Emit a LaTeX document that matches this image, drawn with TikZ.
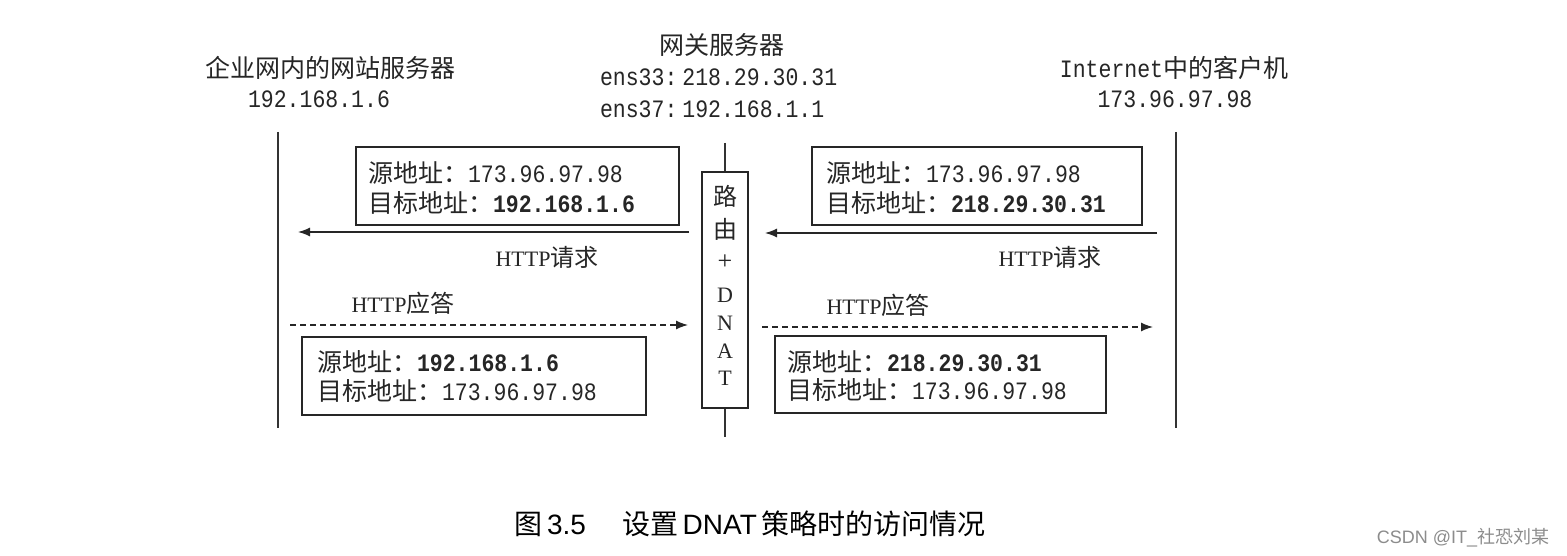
\documentclass[tikz,border=0pt]{standalone}
\usepackage{fontspec}
\usetikzlibrary{arrows.meta}
\setmainfont{Liberation Serif}
\newfontfamily\cjk{Noto Sans CJK SC}
\newfontfamily\mono[FakeStretch=0.86]{Liberation Mono}
\newfontfamily\arialf{Liberation Sans}
\newcommand\zh[1]{{\cjk\fontsize{25}{30}\selectfont #1}}
\newcommand\mn[1]{{\mono\fontsize{25}{30}\selectfont #1}}
\newcommand\mb[1]{{\mono\bfseries\fontsize{25}{30}\selectfont #1}}
\newcommand\ser[1]{{\fontsize{22}{26}\selectfont #1}}
\begin{document}
\begin{tikzpicture}[x=1pt,y=-1pt,
  txt/.style={inner sep=0pt,outer sep=0pt,text=black!85},
  lifeline/.style={line width=1.6pt,draw=black!80},
  pktbox/.style={draw=black!85,line width=1.5pt,inner sep=0pt},
  req/.style={line width=1.3pt,draw=black!85,-{Latex[length=12pt,width=9pt]}},
  resp/.style={line width=1.3pt,draw=black!85,dash pattern=on 6pt off 4pt,-{Latex[length=12pt,width=9pt]}}]
\useasboundingbox (0,0) rectangle (1567,556);
\fill[white] (0,0) rectangle (1567,556);

% headers
\node[txt] (h1) at (330,68) {\zh{企业网内的网站服务器}};
\node[txt] (h1ip) at (319,99) {\mn{192.168.1.6}};
\node[txt] (h2) at (722,45) {\zh{网关服务器}};
\node[txt,anchor=west] (h2a) at (600,77) {\mn{ens33:\hspace{5pt}218.29.30.31}};
\node[txt,anchor=west] (h2b) at (600,109) {\mn{ens37:\hspace{5pt}192.168.1.1}};
\node[txt] (h3) at (1174,68) {\mn{Internet}\zh{中的客户机}};
\node[txt] (h3ip) at (1175,99) {\mn{173.96.97.98}};

% lifelines
\coordinate (lt) at (278,132); \coordinate (lb) at (278,428);
\coordinate (rt) at (1176,132); \coordinate (rb) at (1176,428);
\draw[lifeline] (lt) -- (lb);
\draw[lifeline] (rt) -- (rb);

% router
\node[draw=black!85,line width=1.5pt,minimum width=46pt,minimum height=236pt,inner sep=0pt] (router) at (725,290) {};
\coordinate (gt) at (725,143); \coordinate (gb) at (725,437);
\draw[lifeline,line width=1.4pt] (gt) -- (router.north);
\draw[lifeline,line width=1.4pt] (router.south) -- (gb);
\node[txt] (r1) at (725,196) {{\cjk\fontsize{24}{28}\selectfont 路}};
\node[txt] (r2) at (725,229) {{\cjk\fontsize{24}{28}\selectfont 由}};
\node[txt] (r3) at (725,262) {{\fontsize{26}{30}\selectfont +}};
\node[txt] (r4) at (725,295) {\ser{D}};
\node[txt] (r5) at (725,323) {\ser{N}};
\node[txt] (r6) at (725,351) {\ser{A}};
\node[txt] (r7) at (725,378) {\ser{T}};

% packet boxes
\draw[pktbox] (356,147) rectangle (679,225);
\node[txt,anchor=west] (b1a) at (368,173) {\zh{源地址：}\mn{173.96.97.98}};
\node[txt,anchor=west] (b1b) at (368,203) {\zh{目标地址：}\mb{192.168.1.6}};

\draw[pktbox] (812,147) rectangle (1142,225);
\node[txt,anchor=west] (b2a) at (826,173) {\zh{源地址：}\mn{173.96.97.98}};
\node[txt,anchor=west] (b2b) at (826,203) {\zh{目标地址：}\mb{218.29.30.31}};

\draw[pktbox] (302,337) rectangle (646,415);
\node[txt,anchor=west] (b3a) at (317,362) {\zh{源地址：}\mb{192.168.1.6}};
\node[txt,anchor=west] (b3b) at (317,391) {\zh{目标地址：}\mn{173.96.97.98}};

\draw[pktbox] (775,336) rectangle (1106,413);
\node[txt,anchor=west] (b4a) at (787,362) {\zh{源地址：}\mb{218.29.30.31}};
\node[txt,anchor=west] (b4b) at (787,390) {\zh{目标地址：}\mn{173.96.97.98}};

% arrows
\coordinate (a1s) at (689,232); \coordinate (a1e) at (298,232);
\coordinate (a2s) at (1157,233); \coordinate (a2e) at (765,233);
\coordinate (a3s) at (290,325); \coordinate (a3e) at (688,325);
\coordinate (a4s) at (762,327); \coordinate (a4e) at (1153,327);
\draw[req] (a1s) -- (a1e);
\draw[req] (a2s) -- (a2e);
\draw[resp] (a3s) -- (a3e);
\draw[resp] (a4s) -- (a4e);

\node[txt] (l1) at (547,257) {\ser{HTTP}{\cjk\fontsize{24}{28}\selectfont 请求}};
\node[txt] (l2) at (1050,257) {\ser{HTTP}{\cjk\fontsize{24}{28}\selectfont 请求}};
\node[txt] (l3) at (403,303) {\ser{HTTP}{\cjk\fontsize{24}{28}\selectfont 应答}};
\node[txt] (l4) at (878,305) {\ser{HTTP}{\cjk\fontsize{24}{28}\selectfont 应答}};

% caption
\node[txt,text=black] (cap) at (750,524) {\fontsize{28}{32}\selectfont{\cjk 图}\,{\arialf 3.5}\hspace{36pt}{\cjk 设置}\,{\arialf DNAT}\,{\cjk 策略时的访问情况}};
\node[txt,text=black!45] (wm) at (1463,538) {\fontsize{18}{22}\selectfont{\arialf CSDN @IT\_}{\cjk 社恐刘某}};
\end{tikzpicture}
\end{document}
